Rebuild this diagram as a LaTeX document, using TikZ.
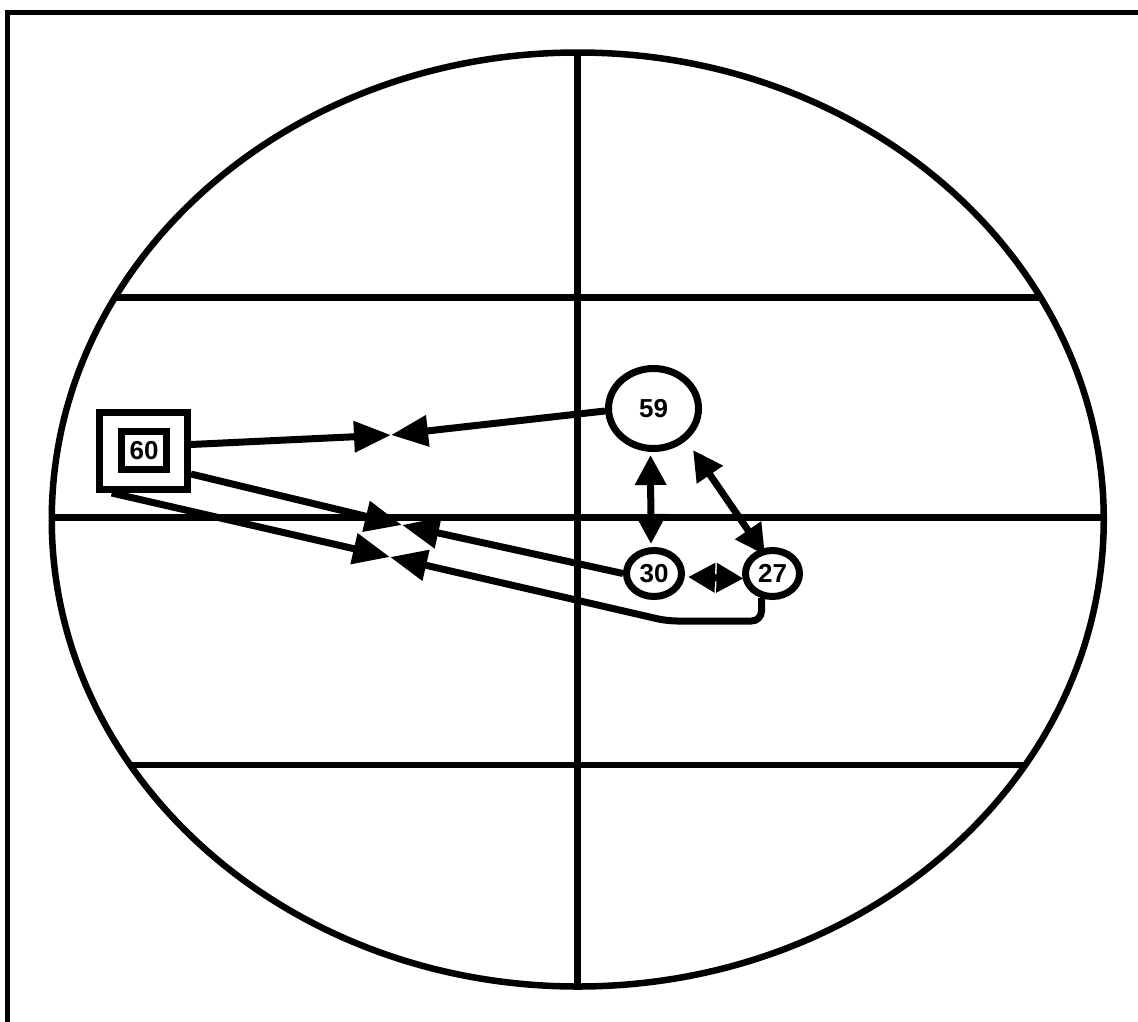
\documentclass[tikz,border=0pt]{standalone}
\usepackage{fontspec}
\setmainfont{Liberation Sans}
\usetikzlibrary{arrows.meta,shapes.geometric,calc}
\begin{document}
\begin{tikzpicture}[x=1pt,y=-1pt,
  gridline/.style={line width=6.5pt},
  edge/.style={line width=7pt},
  circ/.style={ellipse,draw,line width=7pt,inner sep=0pt,font=\bfseries\fontsize{26}{30}\selectfont},
  boxn/.style={rectangle,draw,line width=7pt,inner sep=0pt,font=\bfseries\fontsize{26}{30}\selectfont},
  midarrow/.style={-{Triangle[length=37pt 0,width=30pt 0]}},
  bothends/.style={{Triangle[length=30pt 0,width=30pt 0]}-{Triangle[length=30pt 0,width=30pt 0]}},
  shortends/.style={{Triangle[length=27pt 0,width=28pt 0]}-{Triangle[length=27pt 0,width=28pt 0]}}
]
\useasboundingbox (0,0) rectangle (1138,1021);
% frame
\draw[line width=5pt] (7.5,1040) -- (7.5,12.5) -- (1160,12.5);
% grid inside ellipse
\begin{scope}
  \clip (577.75,519.5) ellipse [x radius=526pt, y radius=467pt];
  \draw[gridline] (0,297.5) -- (1138,297.5);
  \draw[gridline] (0,517.5) -- (1138,517.5);
  \draw[gridline] (0,765) -- (1138,765);
  \draw[gridline] (577.5,0) -- (577.5,1021);
\end{scope}
\draw[gridline] (577.75,519.5) ellipse [x radius=526pt, y radius=467pt];
% nodes
\node[boxn, minimum width=88.3pt, minimum height=77pt] (n60) at (143.3,451) {};
\node[boxn, minimum width=44.7pt, minimum height=38pt] (n60in) at (144.2,450.8) {60};
\node[circ, minimum width=90pt, minimum height=80pt] (n59) at (653.5,408.5) {59};
\node[circ, minimum width=55pt, minimum height=46pt] (n30) at (654,573.5) {30};
\node[circ, minimum width=54pt, minimum height=46pt] (n27) at (772.5,573.5) {27};
% meeting points
\coordinate (m1) at (391,435);
\coordinate (m2) at (402,525);
\coordinate (m3) at (390,557);
\coordinate (c1) at (761.5,621);
\coordinate (c2) at (667,621);
% edges to 60
\draw[edge,midarrow] ($(n60.east)+(0,-6.5)$) -- (m1);
\draw[edge,midarrow] ($(n59.west)+(0,2.5)$) -- (m1);
\draw[edge,midarrow] ($(n60.east)+(0,23)$) -- (m2);
\draw[edge,midarrow] (n30.west) -- (m2);
\draw[edge,midarrow] ($(n60.south west)+(16,0)$) -- (m3);
\draw[edge,midarrow,rounded corners=10pt] ($(n27.south)+(-11,-2)$) -- (c1) -- (c2) -- (m3);
% edges among 59, 30, 27
\draw[edge,bothends] ($(n59.south)+(-3,3)$) -- ($(n30.north)+(-3,-3)$);
\draw[edge,bothends] ($(n59)+(39.5,41.5)$) -- ($(n27)+(-7.5,-18.5)$);
\draw[edge,shortends] ($(n30.east)+(3,3.5)$) -- ($(n27.west)+(1.5,5)$);
\end{tikzpicture}
\end{document}
